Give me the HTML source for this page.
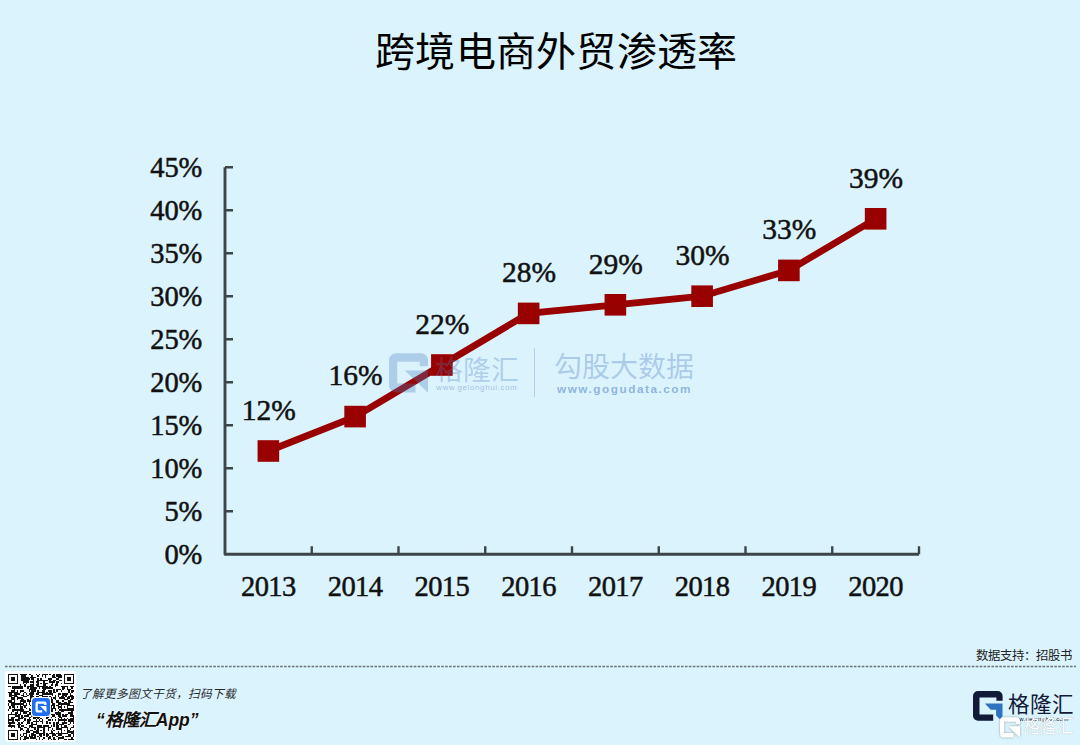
<!DOCTYPE html>
<html lang="zh-CN"><head><meta charset="utf-8">
<style>
html,body{margin:0;padding:0;}
body{width:1080px;height:745px;overflow:hidden;background:#dbf3fd;position:relative;font-family:"Liberation Sans",sans-serif;}
.abs{position:absolute;}
svg{position:absolute;left:0;top:0;}
.d{letter-spacing:0px !important;font-size:29.5px !important;}
.yl{letter-spacing:-0.2px !important;}
.n{font-family:"Liberation Serif",serif;font-size:28.5px;fill:#111;stroke:#111;stroke-width:0.5px;letter-spacing:-0.6px;}
.title{left:375px;top:27px;white-space:nowrap;font-size:40px;color:#000;letter-spacing:0.3px;line-height:50px;}
.wm1{left:435px;top:351.5px;font-size:27.8px;line-height:38px;color:rgba(74,126,193,0.32);font-weight:300;letter-spacing:0px;white-space:nowrap;}
.wm2{left:436px;top:383px;font-size:8px;line-height:10px;color:rgba(74,126,193,0.45);letter-spacing:0.6px;white-space:nowrap;}
.wm3{left:554px;top:348.5px;font-size:28px;line-height:38px;color:rgba(74,126,193,0.34);font-weight:500;white-space:nowrap;}
.wm4{left:557px;top:380.5px;font-size:11.8px;line-height:16px;color:rgba(74,126,193,0.55);font-weight:bold;letter-spacing:1.5px;white-space:nowrap;}
.lg1{left:1008px;top:689.5px;font-size:21.5px;line-height:30px;color:#111a38;font-weight:400;white-space:nowrap;}
.lg2{left:1010px;top:715px;font-size:6px;line-height:8px;color:#111a38;letter-spacing:0.3px;white-space:nowrap;}
.lg3{left:1023.5px;top:714px;font-size:19px;line-height:26px;color:#fff;font-weight:500;white-space:nowrap;text-shadow:0 0 1px rgba(0,0,0,0.35);transform:scaleX(0.86);transform-origin:0 0;}
.src{right:8px;top:646px;font-size:12.4px;color:#222;font-weight:500;line-height:20px;white-space:nowrap;}
.dash{left:5px;top:666px;width:1071px;height:0;border-top:1px dashed #8a9196;}
.t1{left:80px;top:685px;font-size:11.7px;font-style:italic;color:#2a2a2a;font-weight:500;line-height:18px;white-space:nowrap;}
.t2{left:96px;top:708.5px;font-size:17.5px;font-style:italic;font-weight:bold;color:#111;line-height:22px;white-space:nowrap;text-shadow:0 0 1px #fff,0 0 2px #fff;}
</style></head><body>
<div class="abs title">跨境电商外贸渗透率</div>
<svg width="1080" height="745" viewBox="0 0 1080 745">
<path d="M225.0 167.20000000000005 V554.2 H919.00" fill="none" stroke="#3d4549" stroke-width="2.9" stroke-linejoin="round"/>
<path d="M225.0 511.20h8M225.0 468.20h8M225.0 425.20h8M225.0 382.20h8M225.0 339.20h8M225.0 296.20h8M225.0 253.20h8M225.0 210.20h8M225.0 167.20h8M311.75 554.2v-8M398.50 554.2v-8M485.25 554.2v-8M572.00 554.2v-8M658.75 554.2v-8M745.50 554.2v-8M832.25 554.2v-8M919.00 554.2v-8" fill="none" stroke="#3d4549" stroke-width="2.4"/>
<text x="202" y="564.00" text-anchor="end" class="n yl">0%</text>
<text x="202" y="521.00" text-anchor="end" class="n yl">5%</text>
<text x="202" y="478.00" text-anchor="end" class="n yl">10%</text>
<text x="202" y="435.00" text-anchor="end" class="n yl">15%</text>
<text x="202" y="392.00" text-anchor="end" class="n yl">20%</text>
<text x="202" y="349.00" text-anchor="end" class="n yl">25%</text>
<text x="202" y="306.00" text-anchor="end" class="n yl">30%</text>
<text x="202" y="263.00" text-anchor="end" class="n yl">35%</text>
<text x="202" y="220.00" text-anchor="end" class="n yl">40%</text>
<text x="202" y="177.00" text-anchor="end" class="n yl">45%</text>
<text x="268.38" y="595.8" text-anchor="middle" class="n">2013</text>
<text x="355.12" y="595.8" text-anchor="middle" class="n">2014</text>
<text x="441.88" y="595.8" text-anchor="middle" class="n">2015</text>
<text x="528.62" y="595.8" text-anchor="middle" class="n">2016</text>
<text x="615.38" y="595.8" text-anchor="middle" class="n">2017</text>
<text x="702.12" y="595.8" text-anchor="middle" class="n">2018</text>
<text x="788.88" y="595.8" text-anchor="middle" class="n">2019</text>
<text x="875.62" y="595.8" text-anchor="middle" class="n">2020</text>
<path d="M268.38 451.00 L355.12 416.60 L441.88 365.00 L528.62 313.40 L615.38 304.80 L702.12 296.20 L788.88 270.40 L875.62 218.80" fill="none" stroke="#990000" stroke-width="6.8" stroke-linejoin="miter"/>
<rect x="257.57" y="440.20" width="21.6" height="21.6" fill="#990000"/>
<rect x="344.32" y="405.80" width="21.6" height="21.6" fill="#990000"/>
<rect x="431.07" y="354.20" width="21.6" height="21.6" fill="#990000"/>
<rect x="517.83" y="302.60" width="21.6" height="21.6" fill="#990000"/>
<rect x="604.58" y="294.00" width="21.6" height="21.6" fill="#990000"/>
<rect x="691.33" y="285.40" width="21.6" height="21.6" fill="#990000"/>
<rect x="778.08" y="259.60" width="21.6" height="21.6" fill="#990000"/>
<rect x="864.83" y="208.00" width="21.6" height="21.6" fill="#990000"/>
<text x="268.88" y="419.70" text-anchor="middle" class="n d">12%</text>
<text x="355.62" y="385.30" text-anchor="middle" class="n d">16%</text>
<text x="442.38" y="333.70" text-anchor="middle" class="n d">22%</text>
<text x="529.12" y="282.10" text-anchor="middle" class="n d">28%</text>
<text x="615.88" y="273.50" text-anchor="middle" class="n d">29%</text>
<text x="702.62" y="264.90" text-anchor="middle" class="n d">30%</text>
<text x="789.38" y="239.10" text-anchor="middle" class="n d">33%</text>
<text x="876.12" y="187.50" text-anchor="middle" class="n d">39%</text>
</svg>

<!-- center watermark -->
<svg class="abs" style="left:389px;top:352.7px" width="39" height="40" viewBox="0 0 38.3 39">
<path d="M0 7a7 7 0 0 1 7-7H31.3a7 7 0 0 1 7 7V12.8H30.2V8.4H8.1V29.9H26V38.6H7a7 7 0 0 1-7-7Z M15.5 17.1H38.3V39Z" fill="#4a7ec1" fill-opacity="0.32"/>
</svg>
<div class="abs wm1">格隆汇</div>
<div class="abs wm2">www.gelonghui.com</div>
<div class="abs" style="left:534.3px;top:347.5px;width:1px;height:49.5px;background:rgba(74,126,193,0.3)"></div>
<div class="abs wm3">勾股大数据</div>
<div class="abs wm4">www.gogudata.com</div>
<!-- bottom right logo -->
<svg class="abs" style="left:972.8px;top:690.8px" width="30" height="30" viewBox="0 0 30 30">
<path d="M0 5a5 5 0 0 1 5-5H24.6a5 5 0 0 1 5 5V9.7H23.4V6.5H6.5V23.4H20.2V29.8H5a5 5 0 0 1-5-5Z" fill="#111a38"/>
<path d="M11.8 12.6L17.7 18.8H23.1V24.4L26.9 28.2L29.5 25.2V12.6Z" fill="#2f72bd"/>
</svg>
<div class="abs lg1">格隆汇</div>
<div class="abs lg2">www.gelonghui.com</div>
<svg class="abs" style="left:1000px;top:717px;filter:drop-shadow(0 0 1px rgba(0,0,0,0.35))" width="20" height="21" viewBox="0 0 38.3 39">
<path d="M0 7a7 7 0 0 1 7-7H31.3a7 7 0 0 1 7 7V12.8H30.2V8.4H8.1V29.9H26V38.6H7a7 7 0 0 1-7-7Z M15.5 17.1H38.3V39Z" fill="#fff"/>
</svg>
<div class="abs lg3">格隆汇</div>
<svg class="abs" style="left:0;top:660px" width="1080" height="12"><line x1="5" y1="6.5" x2="1076" y2="6.5" stroke="#6c7276" stroke-width="1.3" stroke-dasharray="2.6 1.33"/></svg>
<div class="abs src">数据支持：招股书</div>
<div class="abs" style="left:5px;top:671px;width:71px;height:71px;background:#fff;border-radius:3px;"></div>
<svg class="abs" style="left:8px;top:674px" width="66" height="66" viewBox="0 0 45 45" shape-rendering="crispEdges"><path d="M0 0h7v1h-7zM8 0h5v1h-5zM14 0h2v1h-2zM19 0h1v1h-1zM21 0h1v1h-1zM23 0h4v1h-4zM28 0h1v1h-1zM31 0h1v1h-1zM33 0h3v1h-3zM38 0h7v1h-7zM0 1h1v1h-1zM6 1h1v1h-1zM9 1h3v1h-3zM16 1h1v1h-1zM20 1h1v1h-1zM23 1h1v1h-1zM25 1h1v1h-1zM30 1h2v1h-2zM33 1h4v1h-4zM38 1h1v1h-1zM44 1h1v1h-1zM0 2h1v1h-1zM2 2h3v1h-3zM6 2h1v1h-1zM9 2h5v1h-5zM15 2h4v1h-4zM25 2h1v1h-1zM30 2h3v1h-3zM34 2h3v1h-3zM38 2h1v1h-1zM40 2h3v1h-3zM44 2h1v1h-1zM0 3h1v1h-1zM2 3h3v1h-3zM6 3h1v1h-1zM9 3h6v1h-6zM16 3h2v1h-2zM20 3h1v1h-1zM22 3h1v1h-1zM27 3h3v1h-3zM33 3h2v1h-2zM38 3h1v1h-1zM40 3h3v1h-3zM44 3h1v1h-1zM0 4h1v1h-1zM2 4h3v1h-3zM6 4h1v1h-1zM9 4h5v1h-5zM17 4h1v1h-1zM20 4h7v1h-7zM28 4h1v1h-1zM31 4h2v1h-2zM35 4h2v1h-2zM38 4h1v1h-1zM40 4h3v1h-3zM44 4h1v1h-1zM0 5h1v1h-1zM6 5h1v1h-1zM10 5h4v1h-4zM15 5h3v1h-3zM19 5h2v1h-2zM24 5h1v1h-1zM28 5h4v1h-4zM33 5h2v1h-2zM38 5h1v1h-1zM44 5h1v1h-1zM0 6h7v1h-7zM10 6h1v1h-1zM12 6h1v1h-1zM17 6h1v1h-1zM20 6h1v1h-1zM22 6h1v1h-1zM24 6h3v1h-3zM30 6h1v1h-1zM33 6h1v1h-1zM36 6h1v1h-1zM38 6h7v1h-7zM8 7h1v1h-1zM11 7h1v1h-1zM15 7h3v1h-3zM19 7h2v1h-2zM24 7h2v1h-2zM29 7h2v1h-2zM32 7h2v1h-2zM0 8h2v1h-2zM3 8h7v1h-7zM11 8h1v1h-1zM13 8h5v1h-5zM20 8h7v1h-7zM28 8h1v1h-1zM32 8h1v1h-1zM36 8h5v1h-5zM42 8h3v1h-3zM3 9h7v1h-7zM13 9h1v1h-1zM15 9h5v1h-5zM21 9h1v1h-1zM23 9h8v1h-8zM37 9h2v1h-2zM40 9h1v1h-1zM43 9h1v1h-1zM4 10h1v1h-1zM14 10h5v1h-5zM24 10h2v1h-2zM31 10h1v1h-1zM33 10h3v1h-3zM37 10h1v1h-1zM40 10h3v1h-3zM2 11h3v1h-3zM6 11h1v1h-1zM8 11h3v1h-3zM14 11h1v1h-1zM16 11h3v1h-3zM20 11h1v1h-1zM23 11h2v1h-2zM27 11h3v1h-3zM31 11h1v1h-1zM33 11h1v1h-1zM36 11h1v1h-1zM41 11h1v1h-1zM43 11h2v1h-2zM0 12h7v1h-7zM8 12h1v1h-1zM11 12h1v1h-1zM15 12h3v1h-3zM20 12h5v1h-5zM26 12h1v1h-1zM28 12h2v1h-2zM31 12h2v1h-2zM41 12h1v1h-1zM43 12h1v1h-1zM1 13h2v1h-2zM4 13h4v1h-4zM10 13h1v1h-1zM12 13h1v1h-1zM14 13h4v1h-4zM19 13h2v1h-2zM23 13h8v1h-8zM34 13h2v1h-2zM37 13h4v1h-4zM42 13h1v1h-1zM1 14h5v1h-5zM9 14h2v1h-2zM13 14h1v1h-1zM15 14h2v1h-2zM21 14h3v1h-3zM30 14h1v1h-1zM32 14h1v1h-1zM34 14h1v1h-1zM37 14h3v1h-3zM42 14h2v1h-2zM1 15h2v1h-2zM4 15h3v1h-3zM10 15h3v1h-3zM15 15h3v1h-3zM19 15h2v1h-2zM23 15h4v1h-4zM28 15h1v1h-1zM32 15h1v1h-1zM34 15h1v1h-1zM36 15h2v1h-2zM39 15h1v1h-1zM41 15h4v1h-4zM2 16h3v1h-3zM6 16h4v1h-4zM15 16h2v1h-2zM19 16h1v1h-1zM21 16h7v1h-7zM29 16h1v1h-1zM31 16h2v1h-2zM35 16h4v1h-4zM40 16h2v1h-2zM43 16h2v1h-2zM2 17h3v1h-3zM6 17h1v1h-1zM9 17h2v1h-2zM13 17h1v1h-1zM15 17h3v1h-3zM22 17h3v1h-3zM27 17h4v1h-4zM32 17h1v1h-1zM38 17h3v1h-3zM42 17h2v1h-2zM0 18h3v1h-3zM4 18h1v1h-1zM8 18h4v1h-4zM13 18h3v1h-3zM21 18h1v1h-1zM23 18h1v1h-1zM25 18h1v1h-1zM27 18h4v1h-4zM33 18h2v1h-2zM37 18h1v1h-1zM41 18h2v1h-2zM1 19h4v1h-4zM8 19h1v1h-1zM10 19h2v1h-2zM14 19h1v1h-1zM17 19h5v1h-5zM24 19h3v1h-3zM28 19h3v1h-3zM33 19h3v1h-3zM38 19h2v1h-2zM41 19h3v1h-3zM0 20h1v1h-1zM2 20h9v1h-9zM12 20h1v1h-1zM14 20h1v1h-1zM16 20h3v1h-3zM20 20h5v1h-5zM26 20h2v1h-2zM30 20h2v1h-2zM34 20h8v1h-8zM0 21h1v1h-1zM2 21h3v1h-3zM8 21h1v1h-1zM10 21h3v1h-3zM15 21h1v1h-1zM18 21h1v1h-1zM20 21h1v1h-1zM24 21h2v1h-2zM27 21h1v1h-1zM29 21h3v1h-3zM33 21h2v1h-2zM36 21h1v1h-1zM40 21h5v1h-5zM1 22h1v1h-1zM3 22h2v1h-2zM6 22h1v1h-1zM8 22h2v1h-2zM11 22h1v1h-1zM16 22h1v1h-1zM18 22h1v1h-1zM20 22h1v1h-1zM22 22h1v1h-1zM24 22h2v1h-2zM27 22h1v1h-1zM29 22h1v1h-1zM31 22h1v1h-1zM34 22h3v1h-3zM38 22h1v1h-1zM40 22h1v1h-1zM44 22h1v1h-1zM1 23h1v1h-1zM4 23h1v1h-1zM8 23h2v1h-2zM12 23h1v1h-1zM14 23h1v1h-1zM17 23h1v1h-1zM19 23h2v1h-2zM24 23h1v1h-1zM29 23h4v1h-4zM34 23h1v1h-1zM36 23h1v1h-1zM40 23h5v1h-5zM0 24h1v1h-1zM3 24h8v1h-8zM14 24h3v1h-3zM19 24h6v1h-6zM26 24h1v1h-1zM28 24h3v1h-3zM32 24h1v1h-1zM35 24h10v1h-10zM3 25h1v1h-1zM6 25h1v1h-1zM8 25h6v1h-6zM18 25h1v1h-1zM20 25h1v1h-1zM23 25h1v1h-1zM26 25h1v1h-1zM28 25h3v1h-3zM34 25h1v1h-1zM36 25h2v1h-2zM43 25h1v1h-1zM2 26h1v1h-1zM5 26h2v1h-2zM8 26h1v1h-1zM10 26h3v1h-3zM14 26h4v1h-4zM22 26h1v1h-1zM24 26h1v1h-1zM28 26h1v1h-1zM32 26h4v1h-4zM41 26h3v1h-3zM0 27h6v1h-6zM7 27h2v1h-2zM13 27h3v1h-3zM17 27h1v1h-1zM20 27h1v1h-1zM22 27h1v1h-1zM24 27h3v1h-3zM29 27h3v1h-3zM33 27h3v1h-3zM37 27h1v1h-1zM39 27h2v1h-2zM42 27h2v1h-2zM0 28h1v1h-1zM5 28h3v1h-3zM9 28h1v1h-1zM11 28h3v1h-3zM16 28h1v1h-1zM18 28h2v1h-2zM24 28h3v1h-3zM30 28h2v1h-2zM34 28h2v1h-2zM37 28h3v1h-3zM42 28h3v1h-3zM0 29h1v1h-1zM2 29h3v1h-3zM7 29h1v1h-1zM9 29h2v1h-2zM14 29h2v1h-2zM17 29h5v1h-5zM26 29h2v1h-2zM29 29h1v1h-1zM32 29h1v1h-1zM35 29h2v1h-2zM44 29h1v1h-1zM0 30h1v1h-1zM2 30h2v1h-2zM7 30h3v1h-3zM11 30h1v1h-1zM14 30h1v1h-1zM17 30h2v1h-2zM20 30h1v1h-1zM22 30h1v1h-1zM26 30h1v1h-1zM34 30h1v1h-1zM36 30h1v1h-1zM38 30h1v1h-1zM40 30h1v1h-1zM42 30h3v1h-3zM0 31h4v1h-4zM5 31h3v1h-3zM11 31h1v1h-1zM13 31h3v1h-3zM19 31h1v1h-1zM21 31h1v1h-1zM23 31h1v1h-1zM27 31h2v1h-2zM30 31h1v1h-1zM32 31h1v1h-1zM34 31h6v1h-6zM41 31h4v1h-4zM0 32h1v1h-1zM3 32h1v1h-1zM6 32h1v1h-1zM10 32h1v1h-1zM13 32h2v1h-2zM17 32h4v1h-4zM22 32h2v1h-2zM26 32h1v1h-1zM34 32h1v1h-1zM38 32h1v1h-1zM41 32h4v1h-4zM0 33h5v1h-5zM7 33h1v1h-1zM9 33h1v1h-1zM13 33h2v1h-2zM16 33h1v1h-1zM19 33h1v1h-1zM23 33h1v1h-1zM26 33h1v1h-1zM28 33h1v1h-1zM31 33h1v1h-1zM33 33h2v1h-2zM37 33h3v1h-3zM42 33h1v1h-1zM44 33h1v1h-1zM1 34h1v1h-1zM6 34h3v1h-3zM12 34h1v1h-1zM16 34h4v1h-4zM31 34h1v1h-1zM33 34h1v1h-1zM35 34h3v1h-3zM41 34h1v1h-1zM0 35h5v1h-5zM7 35h1v1h-1zM9 35h2v1h-2zM14 35h3v1h-3zM20 35h3v1h-3zM24 35h4v1h-4zM29 35h1v1h-1zM31 35h1v1h-1zM33 35h2v1h-2zM36 35h1v1h-1zM38 35h2v1h-2zM44 35h1v1h-1zM2 36h1v1h-1zM4 36h1v1h-1zM7 36h2v1h-2zM11 36h2v1h-2zM14 36h1v1h-1zM16 36h3v1h-3zM20 36h5v1h-5zM27 36h2v1h-2zM33 36h2v1h-2zM36 36h5v1h-5zM43 36h2v1h-2zM8 37h2v1h-2zM13 37h1v1h-1zM18 37h1v1h-1zM20 37h1v1h-1zM24 37h1v1h-1zM27 37h1v1h-1zM30 37h1v1h-1zM33 37h4v1h-4zM40 37h1v1h-1zM42 37h1v1h-1zM0 38h7v1h-7zM8 38h1v1h-1zM10 38h1v1h-1zM12 38h2v1h-2zM15 38h2v1h-2zM19 38h2v1h-2zM22 38h1v1h-1zM24 38h1v1h-1zM27 38h1v1h-1zM29 38h1v1h-1zM31 38h1v1h-1zM36 38h1v1h-1zM38 38h1v1h-1zM40 38h2v1h-2zM44 38h1v1h-1zM0 39h1v1h-1zM6 39h1v1h-1zM12 39h3v1h-3zM17 39h4v1h-4zM24 39h1v1h-1zM29 39h2v1h-2zM34 39h1v1h-1zM36 39h1v1h-1zM40 39h5v1h-5zM0 40h1v1h-1zM2 40h3v1h-3zM6 40h1v1h-1zM10 40h3v1h-3zM16 40h2v1h-2zM19 40h6v1h-6zM26 40h1v1h-1zM28 40h4v1h-4zM33 40h8v1h-8zM43 40h2v1h-2zM0 41h1v1h-1zM2 41h3v1h-3zM6 41h1v1h-1zM8 41h1v1h-1zM10 41h1v1h-1zM12 41h1v1h-1zM14 41h1v1h-1zM16 41h3v1h-3zM21 41h2v1h-2zM24 41h1v1h-1zM26 41h2v1h-2zM30 41h3v1h-3zM34 41h3v1h-3zM41 41h2v1h-2zM44 41h1v1h-1zM0 42h1v1h-1zM2 42h3v1h-3zM6 42h1v1h-1zM9 42h1v1h-1zM11 42h2v1h-2zM14 42h3v1h-3zM18 42h1v1h-1zM20 42h1v1h-1zM22 42h1v1h-1zM26 42h1v1h-1zM28 42h1v1h-1zM30 42h1v1h-1zM33 42h1v1h-1zM37 42h1v1h-1zM39 42h4v1h-4zM44 42h1v1h-1zM0 43h1v1h-1zM6 43h1v1h-1zM8 43h1v1h-1zM11 43h3v1h-3zM15 43h4v1h-4zM21 43h1v1h-1zM24 43h1v1h-1zM27 43h2v1h-2zM31 43h1v1h-1zM34 43h4v1h-4zM43 43h1v1h-1zM0 44h7v1h-7zM8 44h1v1h-1zM10 44h2v1h-2zM19 44h1v1h-1zM21 44h1v1h-1zM23 44h1v1h-1zM27 44h1v1h-1zM29 44h1v1h-1zM31 44h2v1h-2zM34 44h1v1h-1zM38 44h2v1h-2zM41 44h4v1h-4z" fill="#111"/></svg>
<div class="abs" style="left:31px;top:697px;width:20px;height:20px;background:#fff;border-radius:3px;"></div><svg class="abs" style="left:32px;top:698px" width="18" height="18" viewBox="0 0 18 18"><rect width="18" height="18" rx="3.5" fill="#1f6ff2"/><path d="M3.5 5.2a1.7 1.7 0 0 1 1.7-1.7H12.8a1.7 1.7 0 0 1 1.7 1.7V7H12.2V5.8H5.8V12.2H10.2V14.5H5.2a1.7 1.7 0 0 1-1.7-1.7Z M8.2 8H14.5V14.5Z" fill="#fff"/></svg>
<div class="abs t1">了解更多图文干货，扫码下载</div>
<div class="abs t2">“格隆汇App”</div>
</body></html>
